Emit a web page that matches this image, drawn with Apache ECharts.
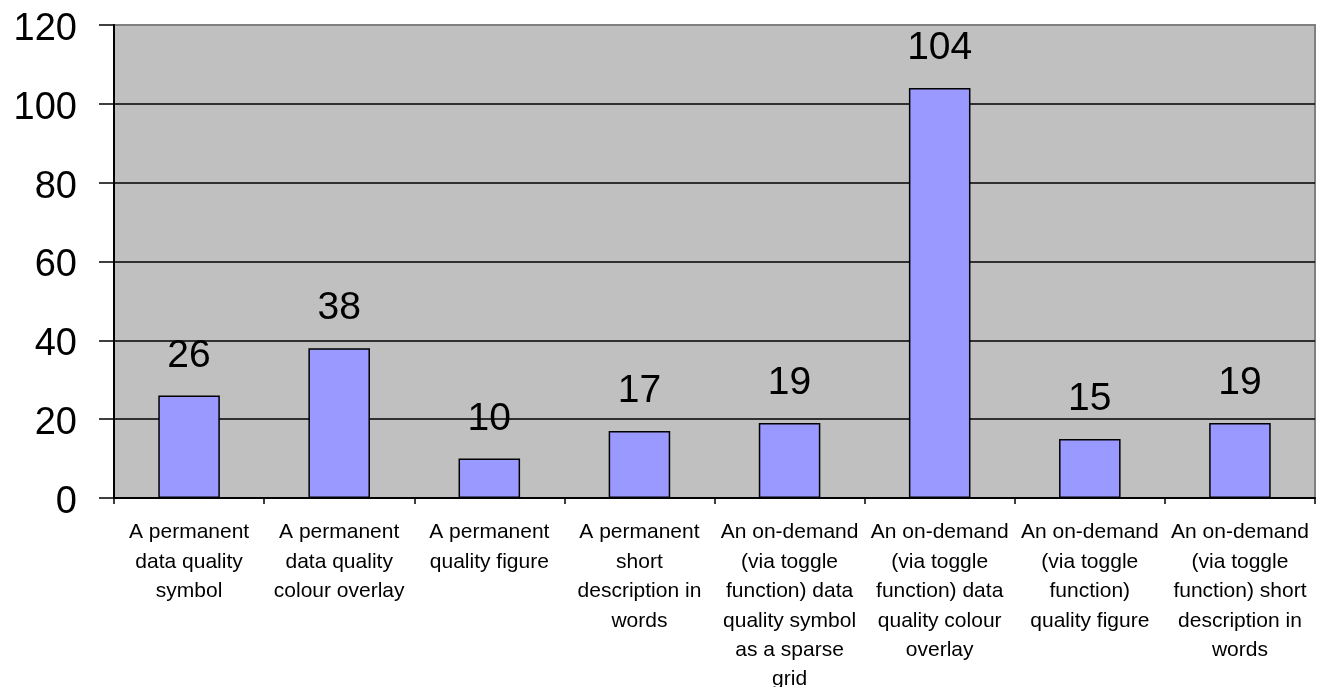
<!DOCTYPE html>
<html>
<head>
<meta charset="utf-8">
<script src="https://cdn.jsdelivr.net/npm/echarts@6/dist/echarts.min.js"></script>
<style>
  html, body { margin: 0; padding: 0; background: #fff; }
  #chart { width: 1317px; height: 687px; }
</style>
</head>
<body>
<div id="chart"></div>
<script>
// Category labels (line breaks as shown under the axis)
const categories = [
  'A permanent\ndata quality\nsymbol',
  'A permanent\ndata quality\ncolour overlay',
  'A permanent\nquality figure',
  'A permanent\nshort\ndescription in\nwords',
  'An on-demand\n(via toggle\nfunction) data\nquality symbol\nas a sparse\ngrid',
  'An on-demand\n(via toggle\nfunction) data\nquality colour\noverlay',
  'An on-demand\n(via toggle\nfunction)\nquality figure',
  'An on-demand\n(via toggle\nfunction) short\ndescription in\nwords'
];
// Number of responses per option
const counts = [26, 38, 10, 17, 19, 104, 15, 19];
// Value axis ticks
const yTicks = [0, 20, 40, 60, 80, 100, 120];

const FONT = 'Arial, "Liberation Sans", sans-serif';
const chart = echarts.init(document.getElementById('chart'), null, { renderer: 'canvas' });

// Gridlines are black, except the top one which blends into the grey frame
const splitColors = yTicks.map((t, i) => (i === yTicks.length - 1 ? '#808080' : '#000000'));

chart.setOption({
  animation: false,
  backgroundColor: '#ffffff',
  grid: {
    left: 114, right: 2, top: 25, bottom: 189,
    outerBoundsMode: 'none',
    containLabel: false,
    show: true,
    backgroundColor: '#c0c0c0',
    borderColor: '#808080',
    borderWidth: 2
  },
  xAxis: {
    type: 'category',
    data: categories,
    axisLine: { show: true, lineStyle: { color: '#000', width: 2 } },
    axisTick: { show: true, alignWithLabel: false, length: 6, lineStyle: { color: '#000', width: 1.5 } },
    axisLabel: {
      interval: 0,
      margin: 20,
      color: '#000',
      fontFamily: FONT,
      fontSize: 21,
      lineHeight: 29.4,
      align: 'center'
    },
    splitLine: { show: false }
  },
  yAxis: {
    type: 'value',
    min: yTicks[0],
    max: yTicks[yTicks.length - 1],
    interval: yTicks[1] - yTicks[0],
    axisLine: { show: true, lineStyle: { color: '#000', width: 2 } },
    axisTick: { show: true, inside: false, length: 15, lineStyle: { color: '#000', width: 1.5 } },
    axisLabel: {
      margin: 37,
      color: '#000',
      fontFamily: FONT,
      fontSize: 38,
      formatter: v => `{t|${v}}`,
      rich: {
        t: { fontFamily: FONT, fontSize: 38, color: '#000', padding: [9, 0, 0, 0] }
      }
    },
    splitLine: { show: true, lineStyle: { color: splitColors, width: 1.5 } }
  },
  series: [{
    type: 'bar',
    data: counts,
    barCategoryGap: '59%',
    itemStyle: { color: '#9999ff', borderColor: '#000', borderWidth: 1.5 },
    label: {
      show: true,
      position: 'top',
      distance: 20,
      color: '#000',
      fontFamily: FONT,
      fontSize: 39
    }
  }]
});
</script>
</body>
</html>
